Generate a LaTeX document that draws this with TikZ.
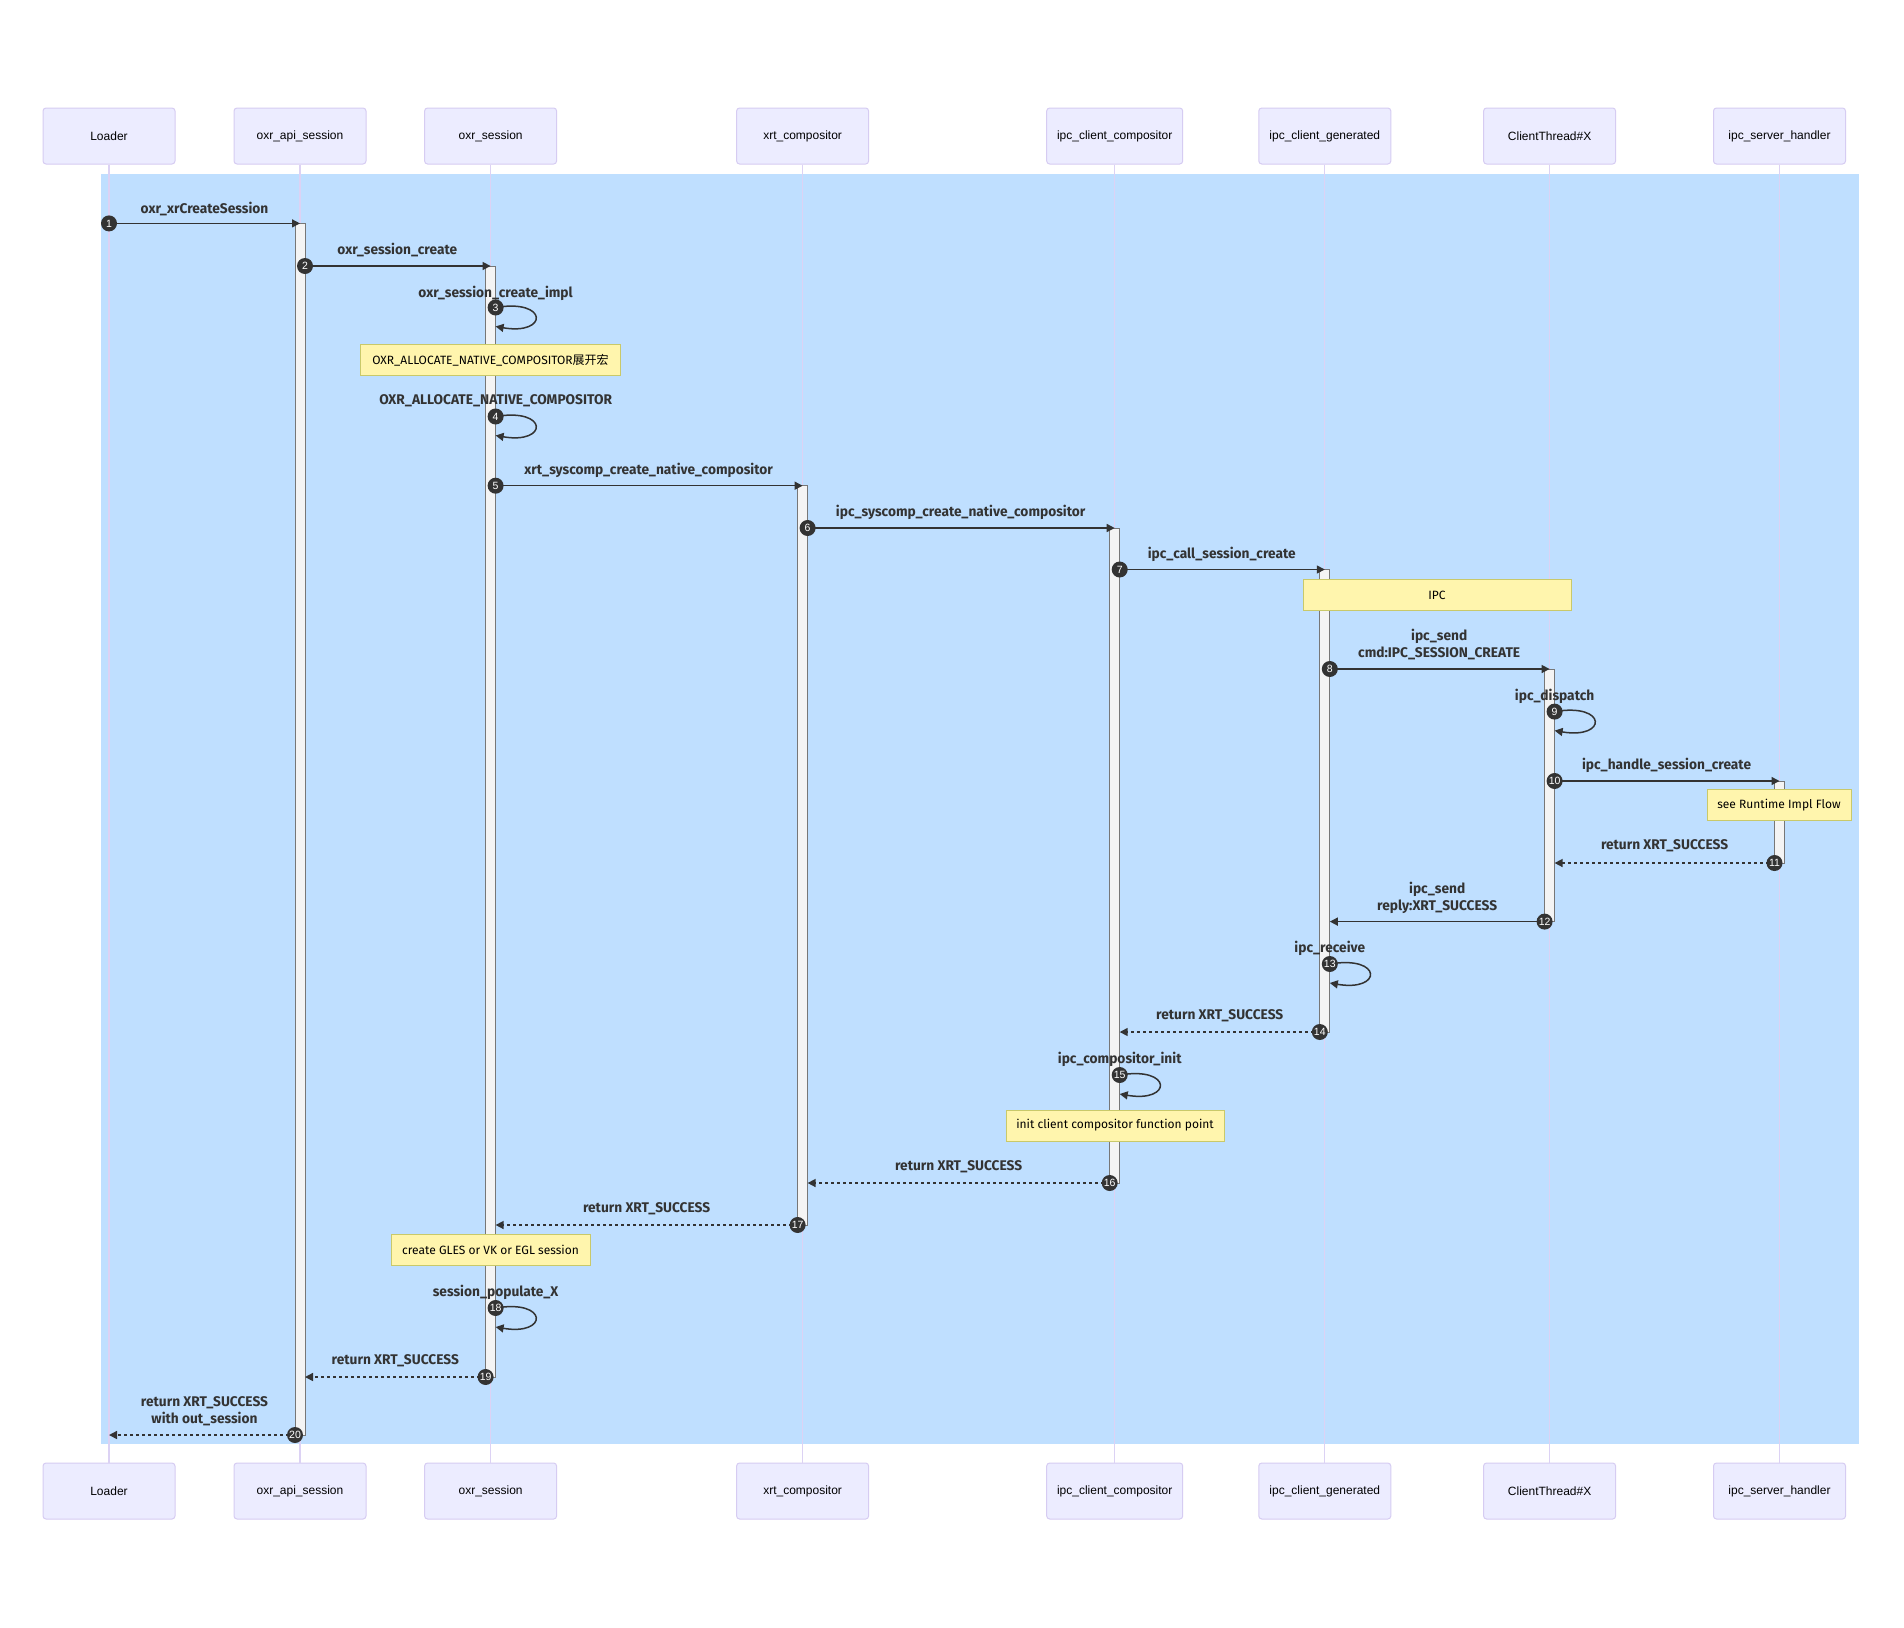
\documentclass[tikz,border=0pt]{standalone}
\usepackage{fontspec}
\setmainfont{Liberation Sans}
\newfontfamily\msgfam[FakeStretch=0.98]{Fira Sans}
\newfontfamily\notefam{Fira Sans}
\newfontfamily\cjk{Noto Sans CJK SC}
\usetikzlibrary{arrows.meta}
\definecolor{actorfill}{HTML}{ECECFF}
\definecolor{actorborder}{HTML}{D6CCF2}
\definecolor{lifecol}{HTML}{DCD2F4}
\definecolor{bluebg}{HTML}{BFDFFF}
\definecolor{notefill}{HTML}{FFF5AD}
\definecolor{notestroke}{HTML}{C9C96A}
\definecolor{actfill}{HTML}{F4F4F4}
\definecolor{actstroke}{HTML}{777777}
\definecolor{arrowcol}{HTML}{333333}
\begin{document}
\begin{tikzpicture}[x=1pt,y=-1pt,
  actor/.style={draw=actorborder, fill=actorfill, rounded corners=3pt, minimum width=132pt, minimum height=56pt, font=\fontsize{12}{14}\selectfont, text=black, line width=1pt, inner sep=0pt},
  lifeline/.style={draw=lifecol, line width=1.2pt},
  act/.style={draw=actstroke, fill=actfill, line width=1pt},
  msg/.style={draw=arrowcol, line width=1.5pt, -{Triangle[length=8pt,width=8pt]}},
  ret/.style={msg, dash pattern=on 3pt off 3pt},
  lbl/.style={font=\msgfam\bfseries\fontsize{14}{17}\selectfont, text=arrowcol, inner sep=0pt, align=center},
  seqnum/.style={circle, fill=arrowcol, text=white, inner sep=0pt, minimum size=16pt, font=\fontsize{10.5}{11}\selectfont},
  notebox/.style={draw=notestroke, fill=notefill, line width=1pt, font=\notefam\fontsize{12}{14}\selectfont, text=black, minimum height=31pt, inner sep=0pt}
]
\def\xA{109}\def\xB{300}\def\xC{490.6}\def\xD{802.6}
\def\xE{1114.7}\def\xF{1324.8}\def\xG{1549.6}\def\xH{1779.5}
\fill[white] (0,0) rectangle (1904,1628);
\useasboundingbox (0,0) rectangle (1904,1628);
\fill[bluebg] (100.8,173.6) rectangle (1859,1444);
% actors
\foreach \n/\x/\t/\w in {A/\xA/Loader/132, B/\xB/oxr\_api\_session/132, C/\xC/oxr\_session/132, D/\xD/xrt\_compositor/132, E/\xE/ipc\_client\_compositor/136, F/\xF/ipc\_client\_generated/132, G/\xG/ClientThread\#X/132, H/\xH/ipc\_server\_handler/132}{
  \node[actor, minimum width=\w pt] (top\n) at (\x,136) {\t};
  \node[actor, minimum width=\w pt] (bot\n) at (\x,1491) {\t};
  \draw[lifeline] (top\n.south) -- (bot\n.north);
}
% activation bars
\draw[act] ({\xB-5},223.4) rectangle ({\xB+5},1435);
\draw[act] ({\xC-5},266) rectangle ({\xC+5},1377);
\draw[act] ({\xD-5},485.7) rectangle ({\xD+5},1225);
\draw[act] ({\xE-5},528) rectangle ({\xE+5},1183);
\draw[act] ({\xF-5},569.5) rectangle ({\xF+5},1032);
\draw[act] ({\xG-5},669) rectangle ({\xG+5},921.6);
\draw[act] ({\xH-5},781) rectangle ({\xH+5},863);
% notes
\node[notebox, minimum width=260pt] (note1) at (490.5,360) {OXR\_ALLOCATE\_NATIVE\_COMPOSITOR{\cjk 展开宏}};
\node[notebox, minimum width=268pt] (note2) at (1437,595) {IPC};
\node[notebox, minimum width=144pt] (note3) at (1779,805) {see Runtime Impl Flow};
\node[notebox, minimum width=218pt] (note4) at (1115,1125.5) {init client compositor function point};
\node[notebox, minimum width=199pt] (note5) at (490.5,1250) {create GLES or VK or EGL session};
% coordinates
\coordinate (m1s) at (\xA,223.4);      \coordinate (m1e) at (\xB,223.4);
\coordinate (m2s) at ({\xB+5},266);    \coordinate (m2e) at (\xC,266);
\coordinate (m3s) at ({\xC+5},307.5);  \coordinate (m3e) at ({\xC+5},326.5);
\coordinate (m4s) at ({\xC+5},416.5);  \coordinate (m4e) at ({\xC+5},435.5);
\coordinate (m5s) at ({\xC+5},485.7);  \coordinate (m5e) at (\xD,485.7);
\coordinate (m6s) at ({\xD+5},528);    \coordinate (m6e) at (\xE,528);
\coordinate (m7s) at ({\xE+5},569.5);  \coordinate (m7e) at (\xF,569.5);
\coordinate (m8s) at ({\xF+5},669);    \coordinate (m8e) at (\xG,669);
\coordinate (m9s) at ({\xG+5},711.6);  \coordinate (m9e) at ({\xG+5},730.6);
\coordinate (m10s) at ({\xG+5},781);   \coordinate (m10e) at (\xH,781);
\coordinate (m11s) at ({\xH-5},863);   \coordinate (m11e) at ({\xG+5},863);
\coordinate (m12s) at ({\xG-5},921.6); \coordinate (m12e) at ({\xF+5},921.6);
\coordinate (m13s) at ({\xF+5},964);   \coordinate (m13e) at ({\xF+5},983);
\coordinate (m14s) at ({\xF-5},1032);  \coordinate (m14e) at ({\xE+5},1032);
\coordinate (m15s) at ({\xE+5},1075);  \coordinate (m15e) at ({\xE+5},1094);
\coordinate (m16s) at ({\xE-5},1183);  \coordinate (m16e) at ({\xD+5},1183);
\coordinate (m17s) at ({\xD-5},1225);  \coordinate (m17e) at ({\xC+5},1225);
\coordinate (m18s) at ({\xC+5},1308);  \coordinate (m18e) at ({\xC+5},1327);
\coordinate (m19s) at ({\xC-5},1377);  \coordinate (m19e) at ({\xB+5},1377);
\coordinate (m20s) at ({\xB-5},1435);  \coordinate (m20e) at (\xA,1435);
% straight calls
\foreach \i in {1,2,5,6,7,8,10,12}{\draw[msg] (m\i s) -- (m\i e);}
% returns
\foreach \i in {11,14,16,17,19,20}{\draw[ret] (m\i s) -- (m\i e);}
% self loops
\foreach \i in {3,4,9,13,15,18}{\draw[msg] (m\i s) .. controls +(53,-9) and +(53,9) .. (m\i e);}
% labels
\node[lbl] (t1) at ({(\xA+\xB)/2},209) {oxr\_xrCreateSession};
\node[lbl] (t2) at ({(\xB+\xC)/2+2},250) {oxr\_session\_create};
\node[lbl] (t3) at ({\xC+5},293) {oxr\_session\_create\_impl};
\node[lbl] (t4) at ({\xC+5},401) {OXR\_ALLOCATE\_NATIVE\_COMPOSITOR};
\node[lbl] (t5) at ({(\xC+\xD)/2+2},470) {xrt\_syscomp\_create\_native\_compositor};
\node[lbl] (t6) at ({(\xD+\xE)/2+2},512) {ipc\_syscomp\_create\_native\_compositor};
\node[lbl] (t7) at ({(\xE+\xF)/2+2},554) {ipc\_call\_session\_create};
\node[lbl] (t8) at ({(\xF+\xG)/2+2},645) {ipc\_send\\cmd:IPC\_SESSION\_CREATE};
\node[lbl] (t9) at ({\xG+5},696) {ipc\_dispatch};
\node[lbl] (t10) at ({(\xG+\xH)/2+2},765) {ipc\_handle\_session\_create};
\node[lbl] (t11) at ({(\xG+\xH)/2},846) {return XRT\_SUCCESS};
\node[lbl] (t12) at ({(\xF+\xG)/2},897.5) {ipc\_send\\reply:XRT\_SUCCESS};
\node[lbl] (t13) at ({\xF+5},948) {ipc\_receive};
\node[lbl] (t14) at ({(\xE+\xF)/2},1016) {return XRT\_SUCCESS};
\node[lbl] (t15) at ({\xE+5},1059) {ipc\_compositor\_init};
\node[lbl] (t16) at ({(\xD+\xE)/2},1167) {return XRT\_SUCCESS};
\node[lbl] (t17) at ({(\xC+\xD)/2},1209) {return XRT\_SUCCESS};
\node[lbl] (t18) at ({\xC+5},1292) {session\_populate\_X};
\node[lbl] (t19) at ({(\xB+\xC)/2},1361) {return XRT\_SUCCESS};
\node[lbl] (t20) at ({(\xA+\xB)/2},1411) {return XRT\_SUCCESS\\with out\_session};
% sequence numbers
\foreach \i in {1,...,20}{\node[seqnum] (n\i) at (m\i s) {\i};}
\end{tikzpicture}
\end{document}
